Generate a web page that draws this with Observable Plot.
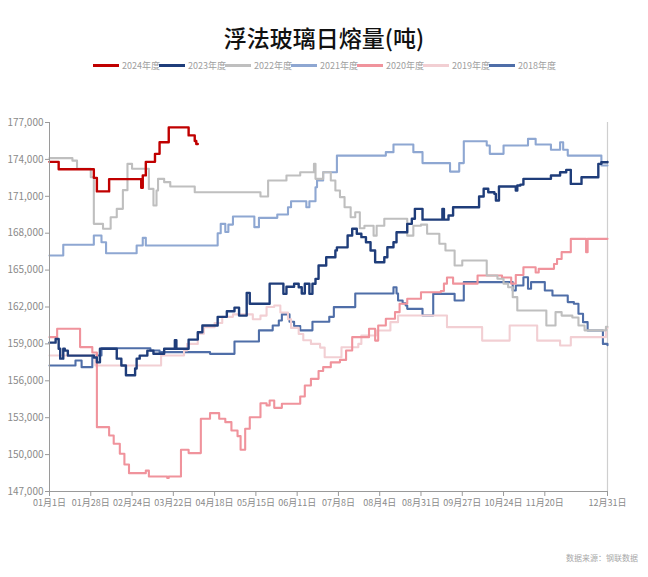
<!DOCTYPE html>
<html>
<head>
<meta charset="utf-8">
<script src="https://cdn.jsdelivr.net/npm/d3@7"></script>
<script src="https://cdn.jsdelivr.net/npm/@observablehq/plot@0.6"></script>
<style>
  html, body { margin: 0; padding: 0; background: #fff; }
  body { width: 648px; height: 577px; position: relative; overflow: hidden; font-family: "Noto Sans CJK SC", sans-serif; }
  #title { position: absolute; top: 21px; left: 0; width: 648px; text-align: center; font-size: 23px; line-height: 32px; color: #111; font-weight: 500; }
  #legend { position: absolute; top: 59px; left: 0; width: 648px; display: flex; justify-content: center; }
  .item { display: flex; align-items: center; width: 66px; font-family: "Liberation Sans Narrow", "Noto Sans CJK SC", sans-serif; font-size: 9px; color: #a0a0a0; white-space: nowrap; }
  .sw { width: 26px; height: 3px; margin-right: 3px; flex: none; }
  #chart { position: absolute; top: 95px; left: 0; }
  #caption { position: absolute; top: 552px; left: 566px; font-size: 8px; color: #a8a8a8; white-space: nowrap; }
</style>
</head>
<body>
<div id="title">浮法玻璃日熔量(吨)</div>
<div id="legend"></div>
<div id="chart"></div>
<div id="caption">数据来源：钢联数据</div>
<script>
// Series names and colours (legend order)
const seriesNames = ["2024年度", "2023年度", "2022年度", "2021年度", "2020年度", "2019年度", "2018年度"];
const seriesColors = ["#C00000", "#1F3D7A", "#BFBFBF", "#8EA7D2", "#F0939C", "#F2CFD3", "#4F6EA8"];

// Values: [day of year (0 = 1 Jan), tonnes per day] at each step change
const s2024 = [[0,173800],[6,173200],[29,172500],[31,171400],[39,172400],[60,171700],[61,172700],[63,173800],[69,174450],[72,175400],[78,176600],[91,175950],[95,175500],[96,175250],[97,175250]];

const s2023 = [[0,159100],[4,159400],[6,158600],[7,157800],[9,158600],[10,158450],[12,158050],[29,157900],[31,157500],[33,158600],[44,157800],[47,157250],[50,156450],[56,157000],[57,157800],[59,158050],[64,158450],[68,158200],[75,158600],[82,159300],[83,158600],[91,159350],[97,159950],[100,160500],[110,161200],[116,161650],[121,161950],[124,161300],[129,163150],[131,162260],[144,163900],[152,163900],[153,163070],[155,163650],[160,163890],[163,163600],[165,163100],[167,163890],[170,163070],[172,163890],[174,164290],[176,165370],[181,166050],[187,166600],[188,166850],[195,167810],[198,168360],[201,167950],[204,167680],[207,167270],[210,166590],[213,165640],[219,166050],[221,166860],[225,167270],[227,168080],[234,168760],[237,169170],[239,169980],[244,169100],[257,169980],[258,169100],[261,169440],[264,170110],[281,170980],[284,171610],[287,171330],[291,171200],[292,170660],[294,171800],[305,171470],[306,171880],[308,171950],[310,172420],[328,172690],[334,172960],[338,173150],[341,172010],[348,172550],[359,173640],[361,173770],[365,173800]];

const s2022 = [[0,174100],[15,173900],[18,173240],[27,172550],[29,168760],[35,168360],[40,169300],[44,169980],[48,171500],[51,173640],[54,173240],[65,171600],[68,170250],[70,171470],[71,172420],[75,172150],[79,171800],[95,171330],[138,170980],[143,172280],[155,172690],[164,172960],[173,173640],[174,172420],[179,172960],[184,172280],[187,171470],[190,170930],[193,170110],[197,169300],[200,169700],[203,168400],[206,168600],[212,167800],[214,168600],[219,169170],[233,169170],[234,167800],[238,168600],[243,168700],[247,167950],[255,167140],[259,166590],[265,165370],[270,165780],[286,164560],[293,164300],[297,163900],[300,163610],[303,162800],[306,161720],[325,160500],[331,161580],[335,161300],[342,161150],[346,160500],[350,160100],[364,160400],[365,160400]];

const s2021 = [[0,166190],[9,167060],[29,167810],[34,167270],[37,166370],[57,167000],[61,167620],[63,167000],[110,168000],[112,168760],[115,168100],[117,168700],[120,169360],[134,168490],[137,169250],[149,169520],[156,170110],[158,170600],[168,170110],[170,170600],[174,171740],[175,172280],[179,172960],[188,174310],[220,174590],[225,175210],[238,174590],[244,173700],[262,173010],[268,173700],[271,175480],[286,175130],[288,174450],[297,175130],[313,175670],[318,175210],[328,174780],[334,175400],[336,174780],[339,174310],[361,173500],[365,173500]];

const s2020 = [[0,159550],[5,160230],[20,158740],[28,158300],[31,152230],[39,151550],[42,150880],[46,150070],[49,149200],[52,148490],[63,148700],[65,148220],[77,148100],[78,148220],[86,150390],[91,150120],[99,152910],[105,153370],[111,152910],[115,152640],[119,151960],[123,151500],[125,150390],[128,152100],[131,153040],[138,154180],[142,154000],[144,154400],[147,153800],[152,154130],[164,154720],[167,155620],[171,156160],[176,156800],[179,157110],[184,157500],[190,157700],[194,158460],[198,159550],[209,160230],[213,159270],[215,160500],[220,161040],[226,161580],[229,162260],[234,162670],[243,163200],[256,163300],[258,163900],[260,164400],[264,163900],[280,164560],[296,164400],[302,163900],[305,164600],[310,165230],[316,165230],[318,164800],[320,165100],[330,165500],[332,165900],[335,166460],[341,167540],[350,167540],[351,166460],[352,167540],[365,167540]];

const s2019 = [[0,158060],[30,157250],[73,158060],[88,158460],[90,159000],[97,159820],[101,160360],[108,160700],[113,161200],[120,161400],[133,161000],[138,161300],[142,162000],[147,162120],[151,161550],[156,161000],[158,160300],[163,159800],[166,159300],[171,159000],[177,158700],[180,157920],[191,158730],[202,159000],[204,159680],[214,160090],[223,160770],[228,161310],[260,160360],[283,159270],[301,160500],[319,159270],[334,158870],[341,159550],[364,160300],[365,160300]];

const s2018 = [[0,157250],[17,157650],[21,157110],[28,158060],[34,158650],[66,158460],[72,158330],[105,158190],[121,159200],[137,160100],[146,160500],[150,160900],[152,161400],[156,161400],[157,160800],[160,160450],[164,160100],[172,160800],[183,161200],[186,161990],[200,163100],[225,163610],[227,163100],[228,162530],[231,162300],[233,162120],[234,161850],[244,161310],[251,163070],[265,162530],[271,164020],[303,163340],[305,163750],[310,164420],[313,163480],[315,164020],[324,163340],[329,162940],[339,162400],[343,162260],[346,161450],[349,160770],[352,160090],[362,159000],[365,158900]];

const seriesValues = [s2024, s2023, s2022, s2021, s2020, s2019, s2018];

// Axis ticks
const yTicks = [147000, 150000, 153000, 156000, 159000, 162000, 165000, 168000, 171000, 174000, 177000];
const xTickDates = ["2024-01-01","2024-01-28","2024-02-24","2024-03-22","2024-04-18","2024-05-15","2024-06-11","2024-07-08","2024-08-04","2024-08-31","2024-09-27","2024-10-24","2024-11-20","2024-12-31"];
const xTickLabels = ["01月1日","01月28日","02月24日","03月22日","04月18日","05月15日","06月11日","07月8日","08月4日","08月31日","09月27日","10月24日","11月20日","12月31日"];

const dayToDate = d => new Date(Date.UTC(2024, 0, 1 + d));
const xTicks = xTickDates.map(s => new Date(s + "T00:00:00Z"));
const start = xTicks[0], end = xTicks[xTicks.length - 1];

// Legend
const legend = document.getElementById("legend");
seriesNames.forEach((n, i) => {
  const it = document.createElement("div");
  it.className = "item";
  it.innerHTML = `<span class="sw" style="background:${seriesColors[i]}"></span><span>${n}</span>`;
  legend.appendChild(it);
});

// Lines, drawn oldest first so the newest sit on top
const lineMarks = [];
for (let i = seriesNames.length - 1; i >= 0; i--) {
  const rows = seriesValues[i].map(([d, v]) => ({date: dayToDate(d), value: v}));
  lineMarks.push(Plot.line(rows, {
    x: "date", y: "value", curve: "step-after",
    stroke: seriesColors[i], strokeWidth: i <= 1 ? 2.4 : 2.1
  }));
}

const fmt = d3.format(",");
const chart = Plot.plot({
  width: 648,
  height: 430,
  marginLeft: 49,
  marginRight: 41,
  marginTop: 27,
  marginBottom: 34,
  style: {fontFamily: "'Liberation Sans Narrow', 'Noto Sans CJK SC', sans-serif", fontSize: "10px", background: "#fff"},
  x: {type: "utc", domain: [start, end]},
  y: {domain: [147000, 177000]},
  marks: [
    Plot.ruleX([end], {stroke: "#cfcfcf", strokeWidth: 1.2}),
    ...lineMarks,
    Plot.ruleX([start], {stroke: "#9a9a9a"}),
    Plot.ruleY([147000], {stroke: "#9a9a9a"}),
    Plot.axisY(yTicks, {tickFormat: fmt, tickSize: 4, tickPadding: 2, stroke: "#9a9a9a", fill: "#8a8a8a", fontSize: 10, label: null}),
    Plot.axisX(xTicks, {tickFormat: (d, i) => xTickLabels[i], tickSize: 5, tickPadding: 3, stroke: "#9a9a9a", fill: "#8a8a8a", fontSize: 9, label: null})
  ]
});
document.getElementById("chart").appendChild(chart);
</script>
</body>
</html>
